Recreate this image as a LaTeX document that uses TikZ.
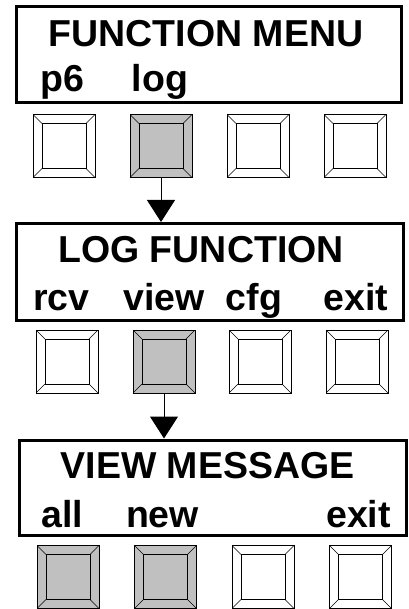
\documentclass[tikz,border=0pt]{standalone}
\usepackage{fontspec}
\setmainfont{Liberation Sans}
\usetikzlibrary{arrows.meta}
\definecolor{keygray}{RGB}{192,192,192}
\tikzset{
  panel/.style = {draw, line width = 3pt, minimum width = 386pt, minimum height = 96pt, inner sep = 0pt},
  caption/.style = {anchor = base, inner sep = 0pt, font = \bfseries\fontsize{37.5}{37.5}\selectfont},
  button/.style = {draw, line width = .8pt, minimum width = 62pt, minimum height = 63pt, inner sep = 0pt,
    path picture = {
      \draw[line width = .8pt] ([shift = {(9pt, 9pt)}]path picture bounding box.south west)
        rectangle ([shift = {(-9pt, -9pt)}]path picture bounding box.north east);
      \draw[line width = .6pt] (path picture bounding box.south west) -- ++(9pt, 9pt);
      \draw[line width = .6pt] (path picture bounding box.south east) -- ++(-9pt, 9pt);
      \draw[line width = .6pt] (path picture bounding box.north west) -- ++(9pt, -9pt);
      \draw[line width = .6pt] (path picture bounding box.north east) -- ++(-9pt, -9pt);
    }},
  pressed/.style = {button, fill = keygray},
  released/.style = {button, fill = white},
  flow/.style = {-{Triangle[width = 28pt, length = 22pt]}, line width = 1pt}
}
\begin{document}
\begin{tikzpicture}[x = 1pt, y = -1pt]
  \useasboundingbox (0, 0) rectangle (408, 609);
  % displays
  \node (disp1) [panel, minimum width = 385pt, minimum height = 96.5pt] at (209, 54.75) {};
  \node (disp2) [panel, minimum width = 387pt, minimum height = 96.5pt] at (210, 271.75) {};
  \node (disp3) [panel, minimum width = 387pt, minimum height = 95pt] at (213, 487.5) {};
  % titles
  \node (title1) [caption] at (206, 47) {FUNCTION MENU};
  \node (title2) [caption] at (201, 262) {LOG FUNCTION};
  \node (title3) [caption] at (207.5, 478) {VIEW MESSAGE};
  % soft key labels
  \foreach \x/\t [count = \i] in {62/p6, 160/log}
    \node (key1\i) [caption] at (\x, 92) {\t};
  \foreach \x/\t [count = \i] in {61.5/rcv, 164/view, 254/cfg, 356/exit}
    \node (key2\i) [caption] at (\x, 310) {\t};
  \foreach \x/\t [count = \i] in {62/all, 162.5/new, 358.5/exit}
    \node (key3\i) [caption] at (\x, 527) {\t};
  % buttons
  \foreach \x/\s [count = \i] in {64/released, 161/pressed, 258/released, 355/released}
    \node (btn1\i) [\s] at (\x, 146) {};
  \foreach \x/\s [count = \i] in {67/released, 164/pressed, 260/released, 357/released}
    \node (btn2\i) [\s] at (\x, 361.5) {};
  \foreach \x/\s [count = \i] in {68/pressed, 165.5/pressed, 263/released, 360.5/released}
    \node (btn3\i) [\s] at (\x, 577) {};
  % flow
  \draw[flow] (btn12.south) -- (btn12.south |- disp2.north);
  \draw[flow] (btn22.south) -- (btn22.south |- disp3.north);
\end{tikzpicture}
\end{document}
